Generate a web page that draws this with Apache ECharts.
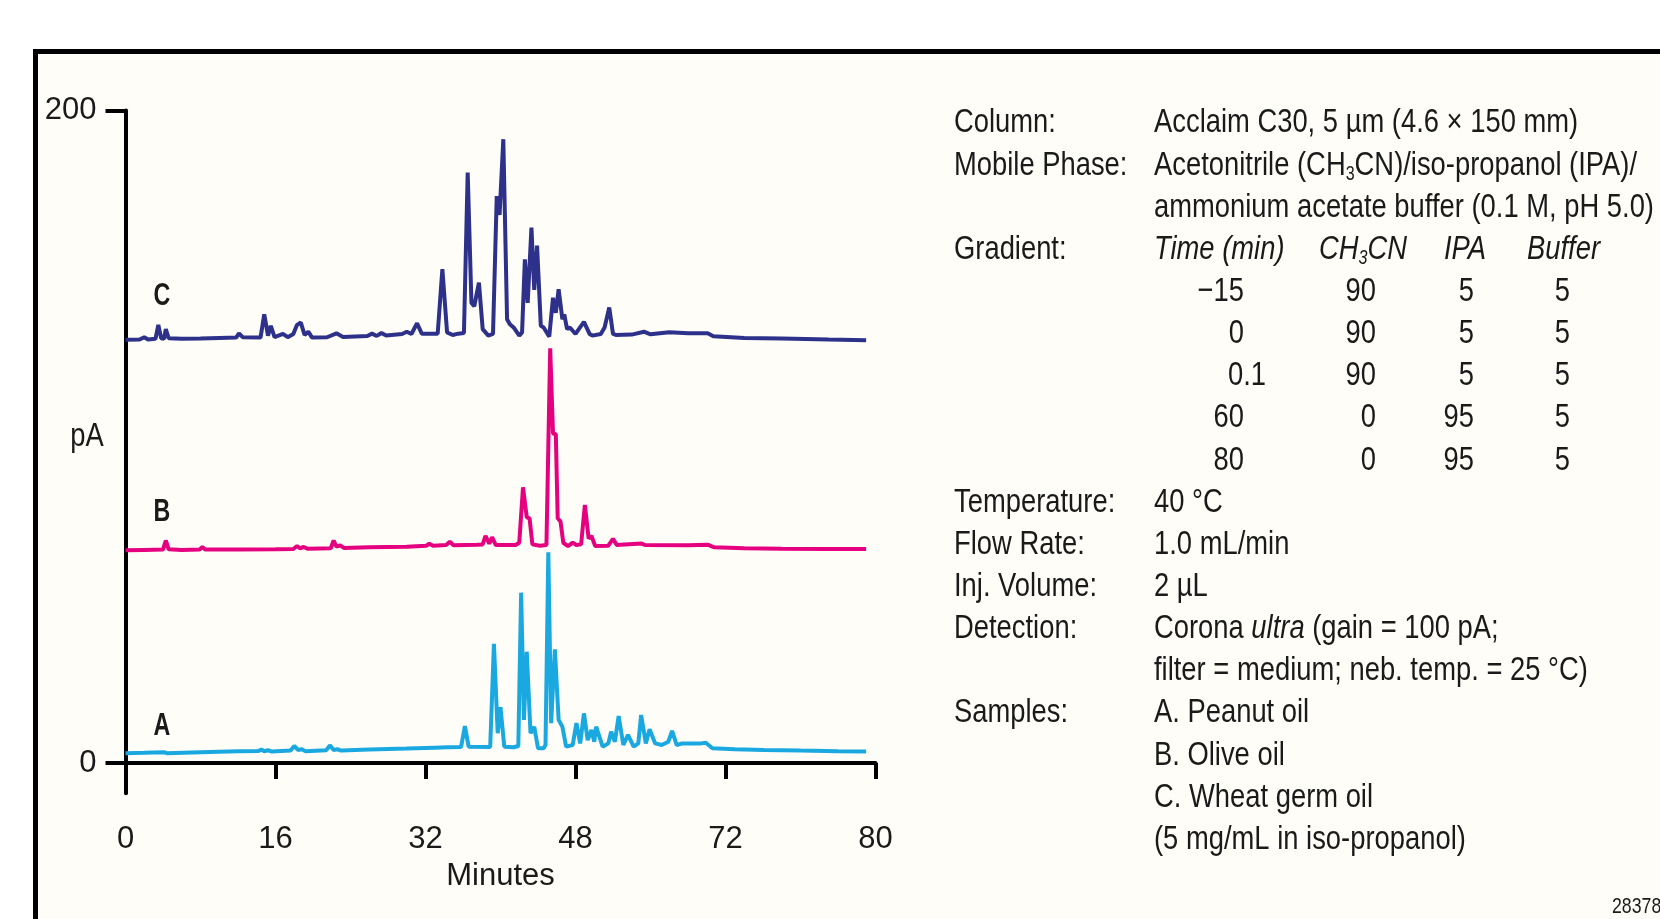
<!DOCTYPE html>
<html>
<head>
<meta charset="utf-8">
<title>Chromatogram of vegetable oils</title>
<script src="https://cdn.jsdelivr.net/npm/echarts@6/dist/echarts.min.js"></script>
<style>
  html, body { margin: 0; padding: 0; background: #fff; }
  #main { width: 1660px; height: 919px; }
</style>
</head>
<body>
<div id="main"></div>
<script>
// x 轴刻度（原图第 5 个刻度印的是 72）
var xTickLabels = ['0', '16', '32', '48', '72', '80'];
var yTickValues = [0, 200];

// [Minutes, pA]，三条曲线在图中已上下错开
var peanutOil = [
  [0, 3.0], [2, 3.1], [4.1, 3.3], [4.4, 3.0], [8, 3.3], [12, 3.6], [14.2, 3.7], [14.5, 4.1], [14.8, 3.6],
  [15.2, 3.9], [15.6, 3.5], [17.6, 3.8], [18.0, 5.2], [18.4, 4.0], [18.8, 4.2], [19.2, 3.6], [21.4, 3.9],
  [21.8, 5.4], [22.2, 4.0], [22.6, 4.2], [23.0, 3.8], [26, 4.1], [30, 4.4], [33, 4.7], [34.3, 4.8],
  [35.8, 4.9], [36.2, 11.3], [36.6, 5.0], [36.8, 4.4], [38.9, 4.9], [39.3, 36.5], [39.7, 9.1], [40.0, 17.1],
  [40.4, 5.0], [41.4, 4.8], [41.9, 5.2], [42.2, 52.2], [42.5, 13.2], [42.8, 34.1], [43.2, 9.1], [43.6, 11.1],
  [44.0, 4.5], [44.6, 4.5], [44.8, 5.5], [45.1, 64.6], [45.4, 12.2], [45.8, 34.8], [46.2, 13.2], [46.6, 11.1],
  [47.0, 5.0], [47.7, 5.5], [48.1, 12.2], [48.5, 6.0], [48.9, 15.2], [49.3, 7.0], [49.7, 10.1], [50.0, 6.5],
  [50.2, 11.1], [50.9, 5.0], [51.5, 6.0], [51.8, 9.6], [52.2, 6.5], [52.6, 14.4], [53.1, 5.5], [53.6, 8.6],
  [54.2, 5.0], [54.7, 6.0], [55.0, 14.7], [55.5, 6.0], [55.9, 10.3], [56.5, 6.0], [57.2, 5.5], [57.9, 6.5],
  [58.3, 9.8], [58.8, 5.5], [59.4, 6.0], [61.4, 6.0], [61.9, 6.2], [62.6, 4.5], [65, 4.2], [68.1, 4.0],
  [72, 3.8], [76, 3.6], [79, 3.5]
];
var oliveOil = [
  [0, 65.2], [2, 65.3], [4.0, 65.4], [4.3, 68.2], [4.6, 65.5], [6, 65.3], [7.9, 65.4], [8.2, 66.2],
  [8.5, 65.4], [12, 65.4], [16, 65.5], [17.9, 65.6], [18.3, 66.5], [18.6, 65.8], [19.0, 66.2], [19.4, 65.7],
  [21.9, 65.8], [22.2, 68.2], [22.5, 66.3], [22.9, 66.7], [23.3, 65.9], [26, 66.1], [30, 66.3], [32.1, 66.6],
  [32.4, 67.2], [32.8, 66.6], [34.2, 66.8], [34.6, 67.8], [35.0, 66.7], [37.5, 66.9], [38.1, 67.0],
  [38.4, 69.6], [38.8, 67.2], [39.1, 69.2], [39.5, 66.8], [41.6, 66.8], [42.0, 67.5], [42.4, 84.5],
  [42.8, 75.3], [43.1, 75.0], [43.4, 67.0], [44.2, 66.6], [44.9, 66.8], [45.3, 127.1], [45.6, 101.0],
  [45.9, 100.8], [46.1, 75.0], [46.4, 74.0], [46.7, 67.5], [47.2, 66.5], [47.7, 67.5], [48.1, 66.8],
  [48.6, 67.0], [49.0, 79.1], [49.4, 68.8], [49.7, 69.6], [50.1, 66.5], [51.5, 66.6], [52.0, 68.7],
  [52.4, 66.8], [55.0, 67.3], [55.4, 66.8], [60, 66.7], [62.1, 66.9], [62.8, 66.1], [66, 65.8], [70, 65.7],
  [75, 65.6], [79, 65.6]
];
var wheatGermOil = [
  [0, 129.7], [1.5, 129.8], [2.0, 130.5], [2.4, 129.8], [3.2, 130.0], [3.5, 134.3], [3.8, 130.2],
  [4.1, 130.0], [4.3, 133.0], [4.6, 130.2], [6, 130.0], [8, 130.1], [10, 130.3], [11.8, 130.4], [12.1, 131.7],
  [12.5, 130.5], [14.4, 130.4], [14.8, 137.5], [15.2, 131.0], [15.5, 134.0], [15.9, 130.5], [16.8, 131.5],
  [17.3, 130.5], [17.9, 131.5], [18.3, 134.3], [18.7, 135.0], [19.1, 131.2], [19.5, 132.2], [19.9, 130.4],
  [21.5, 130.5], [22.5, 131.7], [23.2, 130.6], [25.8, 130.9], [26.3, 131.6], [26.8, 130.9], [27.3, 131.8],
  [27.8, 131.0], [29.5, 131.5], [30.0, 132.2], [30.5, 131.5], [31.1, 134.8], [31.6, 131.6], [33.3, 131.6],
  [33.8, 151.4], [34.3, 132.0], [34.9, 131.2], [35.5, 131.6], [36.1, 131.8], [36.5, 181.0], [36.9, 141.0],
  [37.2, 140.0], [37.7, 147.2], [38.1, 133.0], [38.7, 131.0], [39.2, 131.5], [39.6, 173.8], [39.9, 168.0],
  [40.3, 191.2], [40.7, 136.0], [41.0, 134.5], [41.4, 133.5], [42.0, 131.0], [42.3, 132.0], [42.6, 154.4],
  [42.9, 141.0], [43.3, 164.1], [43.6, 145.0], [43.9, 158.6], [44.3, 134.0], [44.6, 133.5], [45.2, 130.7],
  [45.6, 142.6], [45.9, 138.0], [46.2, 145.2], [46.6, 136.0], [46.8, 137.5], [47.1, 133.0], [47.4, 133.5],
  [48.0, 131.5], [48.9, 135.2], [49.5, 131.5], [49.8, 131.0], [50.7, 131.5], [51.1, 133.5], [51.6, 139.6],
  [52.0, 131.5], [52.3, 131.2], [54.0, 131.3], [55.3, 132.2], [56.0, 131.4], [58.0, 132.0], [60, 131.7],
  [62.1, 131.7], [62.7, 130.8], [66, 130.3], [70, 130.1], [75, 129.8], [79, 129.6]
];

// 右侧实验条件
var gradientTime = ['\u221215', '0', '0.1', '60', '80'];
var gradientCH3CN = ['90', '90', '90', '0', '0'];
var gradientIPA = ['5', '5', '5', '95', '95'];
var gradientBuffer = ['5', '5', '5', '5', '5'];

var FONT = "'Liberation Sans', Arial, sans-serif";
var FS = 34;
var SX = 0.805; // 原图是窄体字，横向压缩
var INK = '#1a1a1a';

function txt(x, y, s, opt) {
  opt = opt || {};
  return {
    type: 'text', x: x, y: y, silent: true, z: 10,
    scaleX: opt.scaleX || SX,
    style: {
      text: s,
      fontFamily: FONT,
      fontSize: opt.fontSize || FS,
      fontStyle: opt.fontStyle || 'normal',
      fontWeight: opt.fontWeight || 'normal',
      fill: INK,
      align: opt.align || 'left',
      verticalAlign: 'middle',
      rich: opt.rich
    }
  };
}

var rich = {
  n: { fontFamily: FONT, fontSize: FS, lineHeight: 38, color: INK, verticalAlign: 'middle' },
  s: { fontFamily: FONT, fontSize: 20, lineHeight: 38, color: INK, verticalAlign: 'bottom' },
  i: { fontFamily: FONT, fontSize: FS, lineHeight: 38, color: INK, fontStyle: 'italic', verticalAlign: 'middle' },
  si: { fontFamily: FONT, fontSize: 20, lineHeight: 38, color: INK, fontStyle: 'italic', verticalAlign: 'bottom' }
};

var labX = 954, valX = 1154;
var rowY = function (i) { return 123 + 42.15 * i; };
var g = [];

// 外框
g.push({
  type: 'rect', silent: true, z: 0,
  shape: { x: 35.5, y: 51.5, width: 1700, height: 1000 },
  style: { fill: '#fefdf8', stroke: '#000', lineWidth: 5 }
});

var rows = [
  ['Column:', 'Acclaim C30, 5 \u00b5m (4.6 \u00d7 150 mm)'],
  ['Mobile Phase:', '{n|Acetonitrile (CH}{s|3}{n|CN)/iso-propanol (IPA)/}'],
  ['', 'ammonium acetate buffer (0.1 M, pH 5.0)'],
  ['Gradient:', null]
];
rows.forEach(function (r, i) {
  if (r[0]) g.push(txt(labX, rowY(i), r[0]));
  if (r[1]) g.push(txt(valX, rowY(i), r[1], { rich: rich }));
});
// 梯度表
g.push(txt(valX, rowY(3), 'Time (min)', { fontStyle: 'italic' }));
g.push(txt(1319, rowY(3), '{i|CH}{si|3}{i|CN}', { rich: rich }));
g.push(txt(1444, rowY(3), 'IPA', { fontStyle: 'italic' }));
g.push(txt(1527, rowY(3), 'Buffer', { fontStyle: 'italic' }));
gradientTime.forEach(function (t, k) {
  var y = rowY(4 + k);
  if (t.indexOf('.') >= 0) g.push(txt(1228, y, t));
  else g.push(txt(1244, y, t, { align: 'right' }));
  g.push(txt(1376, y, gradientCH3CN[k], { align: 'right' }));
  g.push(txt(1474, y, gradientIPA[k], { align: 'right' }));
  g.push(txt(1570, y, gradientBuffer[k], { align: 'right' }));
});
var rows2 = [
  ['Temperature:', '40 \u00b0C'],
  ['Flow Rate:', '1.0 mL/min'],
  ['Inj. Volume:', '2 \u00b5L'],
  ['Detection:', '{n|Corona }{i|ultra}{n| (gain = 100 pA;}'],
  ['', 'filter = medium; neb. temp. = 25 \u00b0C)'],
  ['Samples:', 'A. Peanut oil'],
  ['', 'B. Olive oil'],
  ['', 'C. Wheat germ oil'],
  ['', '(5 mg/mL in iso-propanol)']
];
rows2.forEach(function (r, k) {
  var y = rowY(9 + k);
  if (r[0]) g.push(txt(labX, y, r[0]));
  g.push(txt(valX, y, r[1], { rich: rich }));
});

// 曲线标记与轴名
g.push(txt(162, 296, 'C', { fontWeight: 'bold', fontSize: 31, align: 'center', scaleX: 0.75 }));
g.push(txt(162, 512, 'B', { fontWeight: 'bold', fontSize: 31, align: 'center', scaleX: 0.75 }));
g.push(txt(162, 726, 'A', { fontWeight: 'bold', fontSize: 31, align: 'center', scaleX: 0.75 }));
g.push(txt(87, 437, 'pA', { align: 'center' }));
g.push(txt(1612, 907, '28378', { fontSize: 22 }));

var myChart = echarts.init(document.getElementById('main'));
var option = {
  backgroundColor: '#ffffff',
  animation: false,
  grid: { left: 125.5, top: 110.5, width: 750, height: 682.8, containLabel: false },
  xAxis: {
    type: 'value', min: 0, max: 80, interval: 16,
    name: 'Minutes', nameLocation: 'middle', nameGap: 68,
    nameTextStyle: { fontFamily: FONT, fontSize: 31, color: INK },
    axisLine: { lineStyle: { color: '#000', width: 4 } },
    axisTick: { length: 16, lineStyle: { color: '#000', width: 4 } },
    axisLabel: {
      margin: 31, fontFamily: FONT, fontSize: 31, color: INK,
      formatter: function (v) { return xTickLabels[Math.round(v / 16)]; }
    },
    splitLine: { show: false }
  },
  yAxis: {
    type: 'value', min: -9.3, max: 200,
    axisLine: { show: true, lineStyle: { color: '#000', width: 4 } },
    axisTick: { show: true, length: 20, customValues: yTickValues, lineStyle: { color: '#000', width: 4 } },
    axisLabel: { margin: 29, fontFamily: FONT, fontSize: 31, color: INK, customValues: yTickValues },
    splitLine: { show: false }
  },
  graphic: g,
  series: [
    { name: 'A', type: 'line', data: peanutOil, showSymbol: false, z: 3,
      lineStyle: { color: '#1aa8e0', width: 4 } },
    { name: 'B', type: 'line', data: oliveOil, showSymbol: false, z: 3,
      lineStyle: { color: '#e5007f', width: 4 } },
    { name: 'C', type: 'line', data: wheatGermOil, showSymbol: false, z: 3,
      lineStyle: { color: '#2d3189', width: 4 } }
  ]
};
myChart.setOption(option);
</script>
</body>
</html>
